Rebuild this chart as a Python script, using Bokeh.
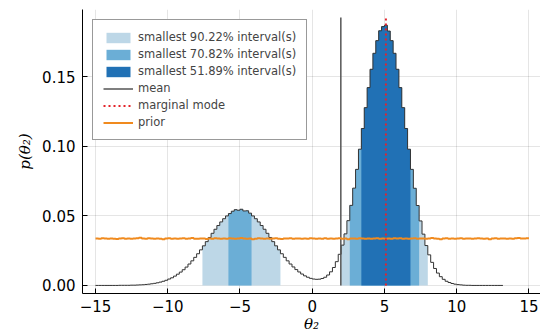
import numpy as np
from bokeh.plotting import figure
from bokeh.models import (Range1d, FixedTicker, Legend, LegendItem,
                          NumeralTickFormatter)
from bokeh.embed import file_html
from bokeh.resources import INLINE

# ---------------- data ----------------
hist_start = -15.0
bin_width = 0.2
posterior_density = [
    0.0000, 0.0000, 0.0000, 0.0000, 0.0000, 0.0000, 0.0000, 0.0000, 0.0001, 0.0001,
    0.0001, 0.0001, 0.0002, 0.0002, 0.0003, 0.0004, 0.0005, 0.0007, 0.0009, 0.0012,
    0.0015, 0.0019, 0.0024, 0.0030, 0.0037, 0.0046, 0.0055, 0.0067, 0.0081, 0.0096,
    0.0113, 0.0132, 0.0154, 0.0177, 0.0202, 0.0228, 0.0256, 0.0285, 0.0315, 0.0345,
    0.0375, 0.0404, 0.0431, 0.0457, 0.0480, 0.0500, 0.0517, 0.0534, 0.0545, 0.0541,
    0.0548, 0.0536, 0.0537, 0.0520, 0.0500, 0.0480, 0.0457, 0.0431, 0.0404, 0.0375,
    0.0345, 0.0315, 0.0285, 0.0256, 0.0228, 0.0202, 0.0177, 0.0154, 0.0133, 0.0114,
    0.0097, 0.0082, 0.0069, 0.0059, 0.0051, 0.0046, 0.0044, 0.0045, 0.0050, 0.0059,
    0.0075, 0.0098, 0.0129, 0.0171, 0.0224, 0.0290, 0.0371, 0.0466, 0.0576, 0.0700,
    0.0835, 0.0980, 0.1129, 0.1279, 0.1423, 0.1555, 0.1670, 0.1761, 0.1832, 0.1862,
    0.1872, 0.1830, 0.1761, 0.1670, 0.1555, 0.1423, 0.1279, 0.1129, 0.0980, 0.0835,
    0.0699, 0.0575, 0.0464, 0.0369, 0.0287, 0.0220, 0.0166, 0.0122, 0.0089, 0.0063,
    0.0044, 0.0030, 0.0021, 0.0014, 0.0009, 0.0006, 0.0004, 0.0002, 0.0001, 0.0001,
    0.0000, 0.0000, 0.0000, 0.0000, 0.0000, 0.0000, 0.0000, 0.0000, 0.0000, 0.0000,
    0.0000,
]

prior_start = -15.0
prior_bin_width = 0.2
prior_density = [
    0.0338, 0.0336, 0.0339, 0.0337, 0.0335, 0.0338, 0.0336, 0.0334, 0.0337, 0.0339,
    0.0336, 0.0338, 0.0335, 0.0337, 0.0340, 0.0343, 0.0338, 0.0336, 0.0339, 0.0337,
    0.0335, 0.0338, 0.0336, 0.0332, 0.0337, 0.0339, 0.0336, 0.0338, 0.0335, 0.0337,
    0.0339, 0.0336, 0.0338, 0.0341, 0.0336, 0.0335, 0.0338, 0.0337, 0.0334, 0.0338,
    0.0336, 0.0339, 0.0337, 0.0335, 0.0338, 0.0336, 0.0340, 0.0337, 0.0335, 0.0338,
    0.0341, 0.0337, 0.0335, 0.0338, 0.0332, 0.0336, 0.0339, 0.0337, 0.0336, 0.0338,
    0.0335, 0.0337, 0.0339, 0.0336, 0.0334, 0.0338, 0.0337, 0.0339, 0.0336, 0.0338,
    0.0337, 0.0335, 0.0338, 0.0336, 0.0340, 0.0337, 0.0335, 0.0338, 0.0336, 0.0339,
    0.0336, 0.0338, 0.0335, 0.0337, 0.0339, 0.0336, 0.0338, 0.0333, 0.0337, 0.0338,
    0.0336, 0.0339, 0.0337, 0.0335, 0.0338, 0.0336, 0.0337, 0.0339, 0.0336, 0.0338,
    0.0335, 0.0338, 0.0336, 0.0339, 0.0337, 0.0340, 0.0336, 0.0338, 0.0335, 0.0337,
    0.0339, 0.0336, 0.0338, 0.0337, 0.0335, 0.0338, 0.0341, 0.0337, 0.0336, 0.0333,
    0.0337, 0.0339, 0.0336, 0.0338, 0.0335, 0.0337, 0.0339, 0.0336, 0.0338, 0.0337,
    0.0336, 0.0338, 0.0340, 0.0337, 0.0335, 0.0338, 0.0333, 0.0337, 0.0339, 0.0336,
    0.0338, 0.0337, 0.0335, 0.0338, 0.0336, 0.0339, 0.0341, 0.0337, 0.0338, 0.0340,
]

interval_labels = ["smallest 90.22% interval(s)",
                   "smallest 70.82% interval(s)",
                   "smallest 51.89% interval(s)"]
intervals_90 = [(-7.6, -2.2), (2.0, 8.0)]
intervals_70 = [(-5.8, -4.2), (2.6, 7.4)]
intervals_52 = [(3.4, 6.8)]
mean_value = 1.98
mode_value = 5.1

x_ticks = [-15, -10, -5, 0, 5, 10, 15]
y_ticks = [0.0, 0.05, 0.10, 0.15]

# ---------------- styles ----------------
band_colors = ["#BDD7E7", "#6BAED6", "#2171B5"]
prior_color = "#F08A1E"
mode_color = "#E3242B"
mean_color = "#555555"
outline_color = "#333333"

# ---------------- figure ----------------
p = figure(width=540, height=335, title=None,
           x_range=Range1d(-15.9, 15.8), y_range=Range1d(-0.0058, 0.1985),
           output_backend="svg", toolbar_location=None,
           min_border_left=82, min_border_right=0,
           min_border_top=9, min_border_bottom=42)
p.background_fill_color = "white"
p.border_fill_color = "white"
p.outline_line_color = None

h = np.array(posterior_density)
edges = hist_start + bin_width * np.arange(len(h) + 1)
left = edges[:-1]
right = edges[1:]

band_renderers = []
for ivs, col in zip([intervals_90, intervals_70, intervals_52], band_colors):
    xs_list, ys_list = [], []
    for lo, hi in ivs:
        m = (left >= lo - 1e-6) & (right <= hi + 1e-6)
        le, ri, hh = left[m], right[m], h[m]
        bx = np.column_stack([le, ri]).ravel()
        by = np.repeat(hh, 2)
        xs_list.append(np.concatenate([[le[0]], bx, [ri[-1]]]))
        ys_list.append(np.concatenate([[0.0], by, [0.0]]))
    r = p.patches(xs_list, ys_list, fill_color=col, line_color=None)
    band_renderers.append(r)

# histogram outline
xs = np.repeat(edges, 2)
ys = np.concatenate([[0.0], np.repeat(h, 2), [0.0]])
p.line(xs, ys, line_color=outline_color, line_width=1)

line_top = max(posterior_density) * 1.03
r_mean = p.line([mean_value, mean_value], [0, line_top],
                line_color=mean_color, line_width=1.5)

ph = np.array(prior_density)
pedges = prior_start + prior_bin_width * np.arange(len(ph) + 1)
pxs = np.repeat(pedges, 2)[1:-1]
pys = np.repeat(ph, 2)
r_prior = p.line(pxs, pys, line_color=prior_color, line_width=2)

r_mode = p.line([mode_value, mode_value], [0, line_top],
                line_color=mode_color, line_width=2, line_dash="2 3")

# ---------------- axes ----------------
p.xaxis.ticker = FixedTicker(ticks=x_ticks)
p.xaxis.major_label_overrides = {t: str(t).replace("-", "\u2212") for t in x_ticks}
p.yaxis.ticker = FixedTicker(ticks=y_ticks)
p.yaxis.formatter = NumeralTickFormatter(format="0.00")
for ax in (p.xaxis[0], p.yaxis[0]):
    ax.major_label_text_font = "DejaVu Sans"
    ax.major_label_text_font_size = "15px"
    ax.major_label_text_color = "black"
    ax.major_tick_in = 5
    ax.major_tick_out = 0
    ax.minor_tick_in = 0
    ax.minor_tick_out = 0
    ax.axis_line_color = "black"
    ax.major_tick_line_color = "black"
    ax.axis_label_text_font = "DejaVu Serif"
    ax.axis_label_text_font_style = "italic"
    ax.axis_label_text_color = "black"

p.yaxis.major_label_standoff = 7
p.yaxis.axis_label = "p(\u03b8\u2082)"
p.yaxis.axis_label_text_font_size = "15px"
p.yaxis.axis_label_standoff = 5

p.xaxis.major_label_standoff = 6
p.xaxis.axis_label = "\u03b8\u2082"
p.xaxis.axis_label_text_font_size = "15px"
p.xaxis.axis_label_standoff = 0

p.xgrid.grid_line_color = "black"
p.xgrid.grid_line_alpha = 0.1
p.ygrid.grid_line_color = "black"
p.ygrid.grid_line_alpha = 0.1

# ---------------- legend ----------------
items = [LegendItem(label=lab, renderers=[r]) for lab, r in zip(interval_labels, band_renderers)]
items += [LegendItem(label="mean", renderers=[r_mean]),
          LegendItem(label="marginal mode", renderers=[r_mode]),
          LegendItem(label="prior", renderers=[r_prior])]
legend = Legend(items=items, location="top_left",
                border_line_color="#333333", border_line_width=1,
                background_fill_color="white", background_fill_alpha=1,
                label_text_font="DejaVu Sans", label_text_font_size="11.5px",
                glyph_width=30, glyph_height=13, label_height=13,
                label_standoff=5, spacing=3, padding=10, margin=10)
p.add_layout(legend)

open("out.html", "w").write(file_html(p, INLINE))
